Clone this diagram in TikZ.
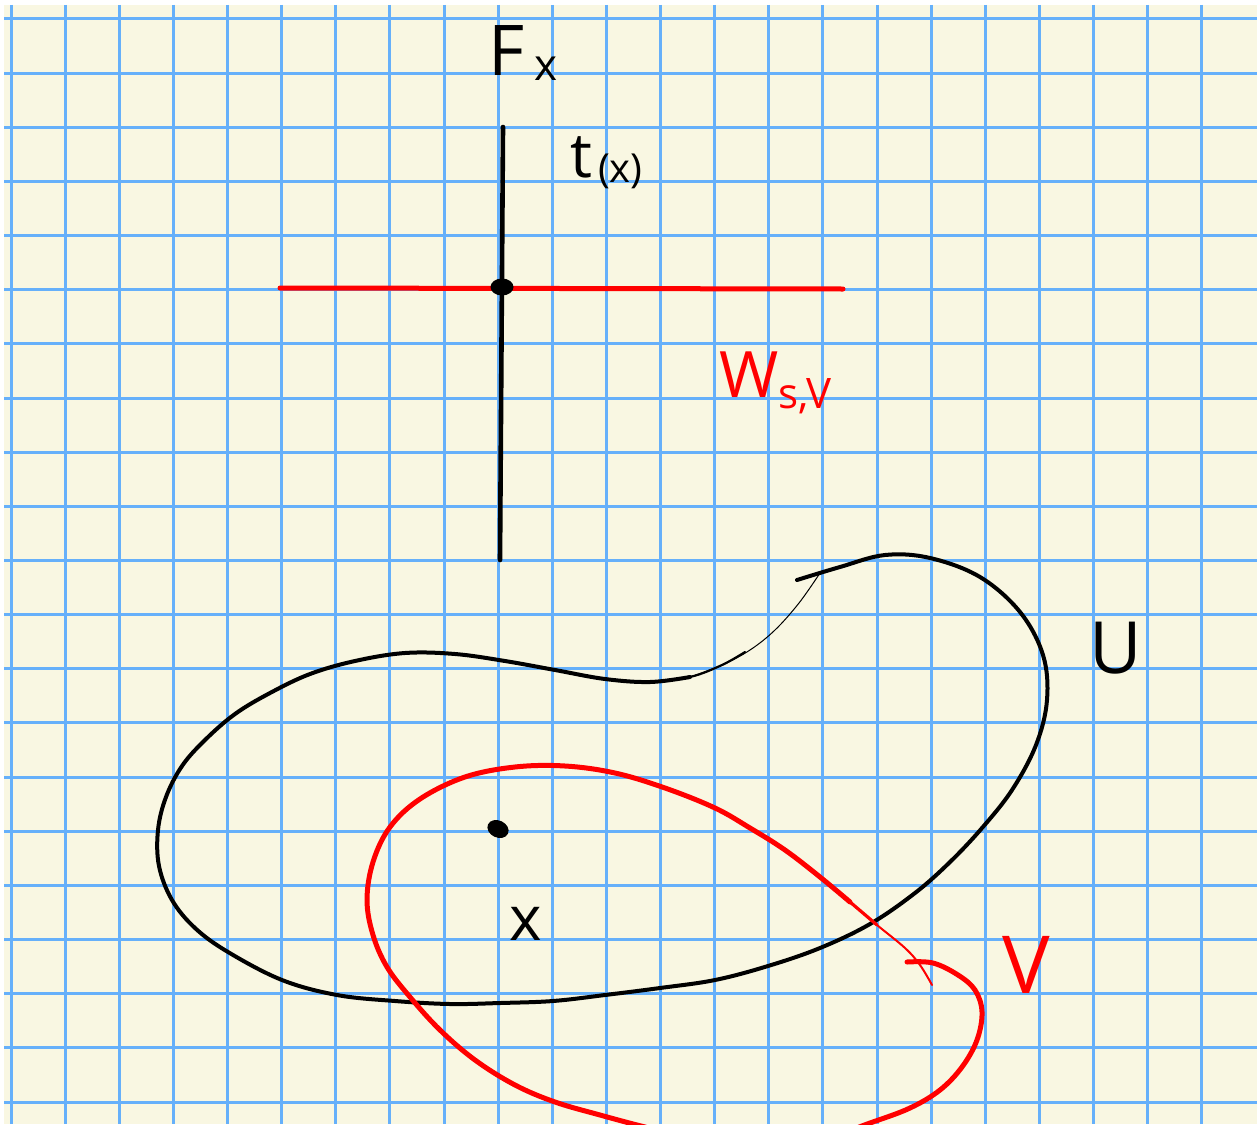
\documentclass[tikz,border=0pt]{standalone}
\usepackage{fontspec}
\setmainfont{Open Sans}
\definecolor{paper}{RGB}{249,247,226}
\definecolor{gridblue}{RGB}{102,176,250}
\begin{document}
\begin{tikzpicture}[x=1pt,y=-1pt, line join=round,
  gridline/.style={gridblue, line width=3pt},
  blackpen/.style={black, line width=4pt, line cap=round},
  thinpen/.style={black, line width=1pt, line cap=round},
  redpen/.style={red, line width=5pt, line cap=round},
  thinred/.style={red, line width=2pt, line cap=round},
  lbl/.style={inner sep=0pt, anchor=base west}]
\useasboundingbox (0,0) rectangle (1257,1124);
\clip (0,0) rectangle (1257,1124);
\fill[white] (0,0) rectangle (1257,1124);
\fill[paper] (4,5) rectangle (1257,1124);
\foreach \k in {0,...,22} \draw[gridline] ({11+54.13*\k},5) -- ({11+54.13*\k},1124);
\foreach \k in {0,...,20} \draw[gridline] (4,{19+54.15*\k}) -- (1257,{19+54.15*\k});

% fibre and W
\coordinate (wl) at (280,288);
\coordinate (wr) at (843,289);
\coordinate (ft) at (503,127);
\coordinate (fb) at (500,560);
\draw[redpen] (wl) -- (wr);
\draw[blackpen, line width=4.6pt] (ft) -- (fb);
\fill[black] (502,287) ellipse [x radius=11.5, y radius=8.5];

% U
\draw[blackpen] plot[smooth, tension=0.6] coordinates {
 (797,580) (840,567) (885,555) (930,558) (980,577) (1020,612) (1043,655)
 (1047,700) (1036,745) (1012,790) (982,828) (950,862) (915,893) (870,924)
 (820,948) (768,966) (715,980) (660,988) (605,995) (553,1001) (500,1003)
 (450,1004) (395,1001) (337,995) (282,980) (228,952) (195,928) (172,900)
 (159,866) (158,830) (166,797) (182,766) (205,740) (235,714) (270,693)
 (310,674) (355,661) (405,653) (455,654) (505,661) (555,670) (605,679)
 (650,682) (690,677)};
\draw[black, line width=2.2pt, line cap=round] plot[smooth, tension=0.6] coordinates {
 (650,682) (690,677) (722,665) (745,652)};
\draw[thinpen] plot[smooth, tension=0.6] coordinates {
 (690,677) (722,665) (750,650) (775,630) (799,603) (820,573)};

% point x
\fill[black, rotate around={-25:(498,829)}] (498,829) ellipse [x radius=11, y radius=8.5];

% V
\draw[redpen] plot[smooth, tension=0.6] coordinates {
 (850,902) (820,877) (785,850) (750,828) (715,808) (665,788) (615,773) (565,766)
 (515,767) (465,777) (420,799) (390,827) (373,862) (367,900) (373,935)
 (387,967) (410,997) (440,1030) (475,1060) (515,1085) (555,1102) (600,1115)
 (645,1127) (700,1140) (760,1148) (820,1140) (870,1123) (910,1108) (940,1090)
 (962,1067) (977,1040) (982,1012) (975,990) (958,975) (933,963) (907,962)};
\draw[red, line width=3.2pt, line cap=round] plot[smooth, tension=0.6] coordinates {
 (820,877) (850,902) (877,925)};
\draw[thinred] plot[smooth, tension=0.6] coordinates {
 (850,902) (877,925) (905,948) (920,965) (932,985)};

% labels
\node[lbl] (Fx) at (488,75) {\fontsize{70}{70}\selectfont F\hspace{10pt}\raisebox{-5pt}{\fontsize{44}{44}\selectfont x}};
\node[lbl] (tx) at (570,177) {\fontsize{62}{62}\selectfont t\hspace{6pt}\raisebox{-5pt}{\fontsize{40}{40}\selectfont (x)}};
\node[lbl, red] (W) at (719,397) {\fontsize{64}{64}\selectfont W\raisebox{-11pt}{\fontsize{42}{42}\selectfont s,V}};
\node[lbl] (U) at (1089,673) {\fontsize{72}{72}\selectfont U};
\node[lbl, red] (V) at (1002,993) {\fontsize{80}{80}\selectfont V};
\node[lbl] (x) at (509,940) {\fontsize{62}{62}\selectfont x};
\end{tikzpicture}
\end{document}
